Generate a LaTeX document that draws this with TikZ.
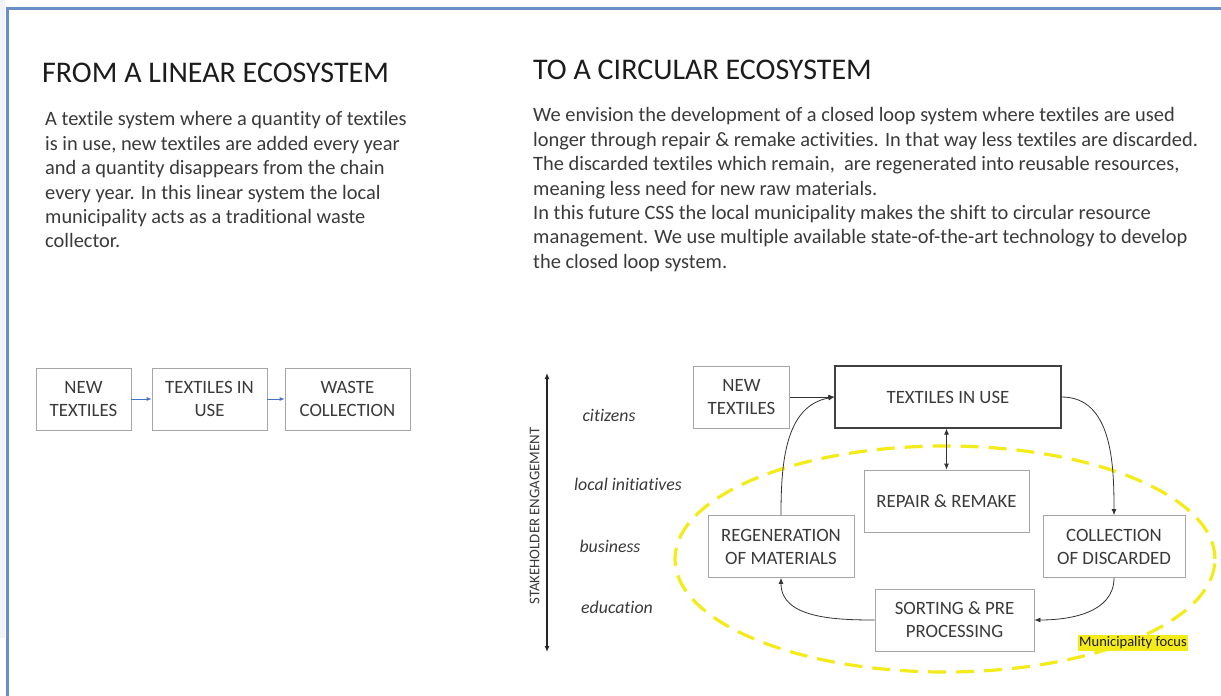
\documentclass[tikz,border=0pt]{standalone}
\usepackage{fontspec}
\setmainfont{Carlito}[Ligatures=NoCommon]
\usetikzlibrary{positioning, arrows.meta}
\definecolor{frameblue}{HTML}{6A8FC8}
\definecolor{boxgray}{HTML}{A6A6A6}
\definecolor{textgray}{HTML}{3A3A3A}
\definecolor{headgray}{HTML}{1C1C1C}
\definecolor{linkblue}{HTML}{4472C4}
\definecolor{focusyellow}{HTML}{F4EC1A}

\begin{document}
\begin{tikzpicture}[x=1pt, y=1pt,
        box/.style={draw=boxgray, line width=0.8pt, align=center, text=textgray,
            inner sep=0pt, font=\fontsize{18.8}{23}\selectfont},
        body/.style={align=left, inner sep=0pt, text=textgray,
            font=\fontsize{20.4}{24.4}\selectfont},
        head/.style={inner sep=0pt, text=headgray, font=\fontsize{30}{33}\selectfont},
        role/.style={inner sep=0pt, text=textgray, font=\fontsize{17.8}{20}\itshape},
        flow/.style={draw=black!80, line width=0.8pt, -{Latex[length=6pt,width=5pt]}},
        bflow/.style={draw=linkblue, line width=0.8pt, -{Latex[length=5pt,width=4pt]}}]
    \useasboundingbox (0,0) rectangle (1221,-696);
    \fill[white] (0,0) rectangle (1221,-696);
    \fill[frameblue!10] (0,0) rectangle (5,-638);
    \draw[frameblue, line width=3pt] (7,-696) -- (7,-8) -- (1221,-8);

    % linear side
    \node[head, anchor=base west] (h1) at (42,-82) {FROM A LINEAR ECOSYSTEM};
    \node[body, anchor=north west] (p1) at (45,-111.5) {A textile system where a quantity of textiles\\
        is in use, new textiles are added every year\\
        and a quantity disappears from the chain\\
        every year. In this linear system the local\\
        municipality acts as a traditional waste\\
        collector.};

    \node[box, minimum width=95pt, minimum height=62pt] (n1) at (83.5,-399) {NEW\\TEXTILES};
    \node[box, minimum width=115pt, minimum height=62pt] (t1) at (209.5,-399) {TEXTILES IN\\USE};
    \node[box, minimum width=125pt, minimum height=62pt] (w1) at (347.5,-399) {WASTE\\COLLECTION};
    \draw[bflow] (n1) -- (t1);
    \draw[bflow] (t1) -- (w1);

    % circular side
    \node[head, anchor=base west] (h2) at (533,-79) {TO A CIRCULAR ECOSYSTEM};
    \node[body, anchor=north west] (p2) at (533,-107.5) {We envision the development of a closed loop system where textiles are used\\
        longer through repair \& remake activities. In that way less textiles are discarded.\\
        The discarded textiles which remain,\ \ are regenerated into reusable resources,\\
        meaning less need for new raw materials.\\
        In this future CSS the local municipality makes the shift to circular resource\\
        management. We use multiple available state-of-the-art technology to develop\\
        the closed loop system.};

    \draw[focusyellow, line width=3.2pt, dash pattern=on 18pt off 10pt] (945,-559) ellipse [x radius=270, y radius=113];
    \node[fill=focusyellow, inner sep=1.5pt, text=headgray, font=\fontsize{14.5}{16}\selectfont] (mf) at (1133,-643) {Municipality focus};

    \coordinate (sa) at (547,-373);
    \coordinate (sb) at (547,-652);
    \draw[black!85, line width=1.2pt, {Latex[length=6pt,width=5pt]}-{Latex[length=6pt,width=5pt]}] (sa) -- (sb);
    \node[rotate=90, inner sep=0pt, text=textgray, font=\fontsize{14.8}{16}\selectfont] (se) at (534.5,-516) {STAKEHOLDER ENGAGEMENT};

    \node[role] (lc) at (609,-415) {citizens};
    \node[role] (li) at (628,-484) {local initiatives};
    \node[role] (lb) at (610,-546) {business};
    \node[role] (le) at (617,-607) {education};

    \node[box, minimum width=96pt, minimum height=62pt] (n2) at (741.5,-397) {NEW\\TEXTILES};
    \node[box, draw=black!75, line width=1.2pt, minimum width=226pt, minimum height=62pt] (t2) at (948,-397) {TEXTILES IN USE};
    \node[box, minimum width=165pt, minimum height=62pt] (r2) at (946.5,-501) {REPAIR \& REMAKE};
    \node[box, minimum width=146pt, minimum height=62pt] (g2) at (781,-546.5) {REGENERATION\\OF MATERIALS};
    \node[box, minimum width=142pt, minimum height=62pt] (c2) at (1114,-546.5) {COLLECTION\\OF DISCARDED};
    \node[box, minimum width=159pt, minimum height=62pt] (s2) at (954.5,-620) {SORTING \& PRE\\PROCESSING};

    \draw[flow] (n2.east) -- (t2.west);
    \draw[flow] (g2.north) to[out=90, in=190] (t2.west);
    \draw[flow, {Latex[length=6pt,width=5pt]}-{Latex[length=6pt,width=5pt]}] (r2.north) -- (r2.north |- t2.south);
    \draw[flow] (t2.east) to[out=0, in=90] (c2.north);
    \draw[flow] (c2.south) to[out=-90, in=0] (s2.east);
    \draw[flow] (s2.west) to[out=180, in=-90] (g2.south);
\end{tikzpicture}
\end{document}
